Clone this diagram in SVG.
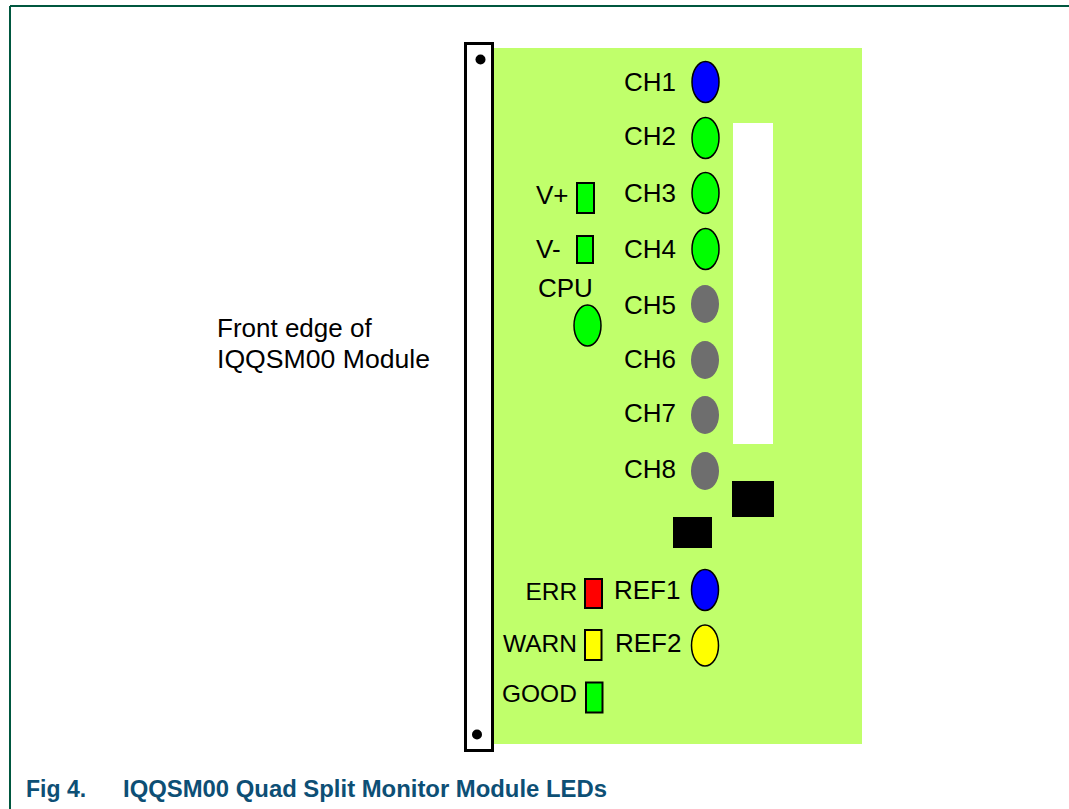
<svg xmlns="http://www.w3.org/2000/svg" width="1069" height="809" viewBox="0 0 1069 809">
<style>
.lbl{font-family:"Liberation Sans",Arial,sans-serif;font-size:26px;fill:#000}
.sm{font-family:"Liberation Sans",Arial,sans-serif;font-size:24.5px;fill:#000}
.led{stroke:#000;stroke-width:1.5}
.sq{stroke:#000;stroke-width:2}
.off{fill:#6e6e6e}
.cap{font-family:"Liberation Sans",Arial,sans-serif;font-size:23px;font-weight:bold;fill:#0d4f75}
</style>
<rect x="0" y="0" width="1069" height="809" fill="#fff"/>
<g id="frame" stroke="#00573f" stroke-width="2" fill="none">
<line x1="10" y1="6" x2="1069" y2="6"/>
<line x1="10" y1="6" x2="10" y2="809"/>
</g>
<g id="board">
<rect x="494" y="48" width="368" height="696" fill="#c0ff6b"/>
<rect x="733" y="123" width="40" height="321" fill="#fff"/>
<rect x="732" y="481" width="42" height="36" fill="#000"/>
<rect x="673" y="517" width="39" height="31" fill="#000"/>
</g>
<g id="front-edge">
<rect x="465.5" y="43.5" width="27" height="707" fill="#fff" stroke="#000" stroke-width="3"/>
<circle cx="480.5" cy="59.5" r="5" fill="#000"/>
<circle cx="477" cy="734.5" r="5" fill="#000"/>
</g>
<g id="front-edge-label">
<text class="lbl" x="217" y="337">Front edge of</text>
<text class="lbl" x="217" y="368" textLength="213" lengthAdjust="spacingAndGlyphs">IQQSM00 Module</text>
</g>
<g id="ch1"><text class="lbl" x="624" y="91">CH1</text><ellipse class="led" cx="705.5" cy="82" rx="13.5" ry="20.5" fill="#0000ff"/></g>
<g id="ch2"><text class="lbl" x="624" y="145">CH2</text><ellipse class="led" cx="705.5" cy="138" rx="13.5" ry="20.5" fill="#00ff00"/></g>
<g id="ch3"><text class="lbl" x="624" y="202">CH3</text><ellipse class="led" cx="705.5" cy="193" rx="13.5" ry="20.5" fill="#00ff00"/></g>
<g id="ch4"><text class="lbl" x="624" y="258">CH4</text><ellipse class="led" cx="705.5" cy="249" rx="13.5" ry="20.5" fill="#00ff00"/></g>
<g id="ch5"><text class="lbl" x="624" y="314">CH5</text><ellipse class="off" cx="705" cy="304" rx="14" ry="19"/></g>
<g id="ch6"><text class="lbl" x="624" y="368">CH6</text><ellipse class="off" cx="705" cy="360" rx="14" ry="19"/></g>
<g id="ch7"><text class="lbl" x="624" y="422">CH7</text><ellipse class="off" cx="705" cy="415" rx="14" ry="19"/></g>
<g id="ch8"><text class="lbl" x="624" y="478">CH8</text><ellipse class="off" cx="705" cy="471" rx="14" ry="19"/></g>
<g id="vplus"><text class="lbl" x="536" y="204">V+</text><rect class="sq" x="577" y="183" width="17" height="30" fill="#00ff00"/></g>
<g id="vminus"><text class="lbl" x="536" y="258">V-</text><rect class="sq" x="577" y="236" width="16" height="27" fill="#00ff00"/></g>
<g id="cpu"><text class="lbl" x="538" y="297">CPU</text><ellipse class="led" cx="587.5" cy="325.5" rx="13.5" ry="20.5" fill="#00ff00"/></g>
<g id="err"><text class="sm" x="525.5" y="600">ERR</text><rect class="sq" x="585" y="579" width="17" height="29" fill="#ff0000"/></g>
<g id="warn"><text class="sm" x="503" y="652">WARN</text><rect class="sq" x="585" y="630" width="16.5" height="30" fill="#ffff00"/></g>
<g id="good"><text class="sm" x="502" y="702">GOOD</text><rect class="sq" x="586" y="682.5" width="16.5" height="30" fill="#00ff00"/></g>
<g id="ref1"><text class="lbl" x="614" y="599">REF1</text><ellipse class="led" cx="705" cy="590" rx="13.5" ry="20.5" fill="#0000ff"/></g>
<g id="ref2"><text class="lbl" x="615" y="652">REF2</text><ellipse class="led" cx="705" cy="645.5" rx="13.5" ry="20.5" fill="#ffff00"/></g>
<g id="caption">
<text class="cap" x="26" y="797">Fig 4.</text>
<text class="cap" x="123" y="797" textLength="484" lengthAdjust="spacingAndGlyphs">IQQSM00 Quad Split Monitor Module LEDs</text>
</g>
</svg>
